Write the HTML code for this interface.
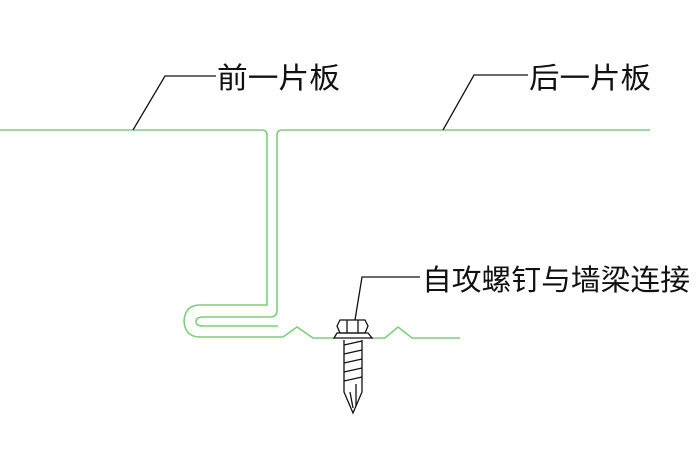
<!DOCTYPE html>
<html><head><meta charset="utf-8"><style>
html,body{margin:0;padding:0;background:#fff;width:700px;height:466px;overflow:hidden}
svg{display:block}
text{font-family:"Liberation Sans","Noto Sans CJK SC",sans-serif;font-size:29px;fill:#111}
</style></head><body>
<svg width="700" height="466" viewBox="0 0 700 466">
<g fill="none" stroke="#7ccf7c" stroke-width="1.6">
<!-- front panel -->
<path d="M0 130 H262 Q267 130 267 135 V305 H200 Q185 305 184 321 Q185 337 200 337 H283 L297 327 L313 338 H335"/>
<!-- rear panel -->
<path d="M650 130 H282 Q277 130 277 135 V310 Q277 317 270 317 H203 Q196 317 196 321.5 Q196 326 203 326 H278"/>
<path d="M370 338 H385 L398 327 L412 338 H460"/>
</g>
<g fill="none" stroke="#111" stroke-width="1.3">
<polyline points="133,130 165,76 216,76"/>
<polyline points="443,130 474,75 528,75"/>
<polyline points="355,320 362,277 420,277"/>
<!-- screw -->
<path d="M340 333 L337 326 L340 320 H365 L368 326 L365 333 Z"/>
<path d="M347 320 V333 M358 320 V333"/>
<path d="M334 338 L337 333 H368 L372 338 Z"/>
<path d="M344 340 V392 L353 413 L362 392 V340"/>
<path d="M344 345 L362 341 M344 354 L362 350 M344 363 L362 359 M344 372 L362 368 M344 381 L362 377"/>
<path d="M350 392 L353 408 M356 384 V406"/>
</g>
<text x="217" y="88" textLength="123" lengthAdjust="spacingAndGlyphs">前一片板</text>
<text x="529" y="88" textLength="122" lengthAdjust="spacingAndGlyphs">后一片板</text>
<text x="422" y="290" textLength="268" lengthAdjust="spacingAndGlyphs">自攻螺钉与墙梁连接</text>
</svg>
</body></html>
